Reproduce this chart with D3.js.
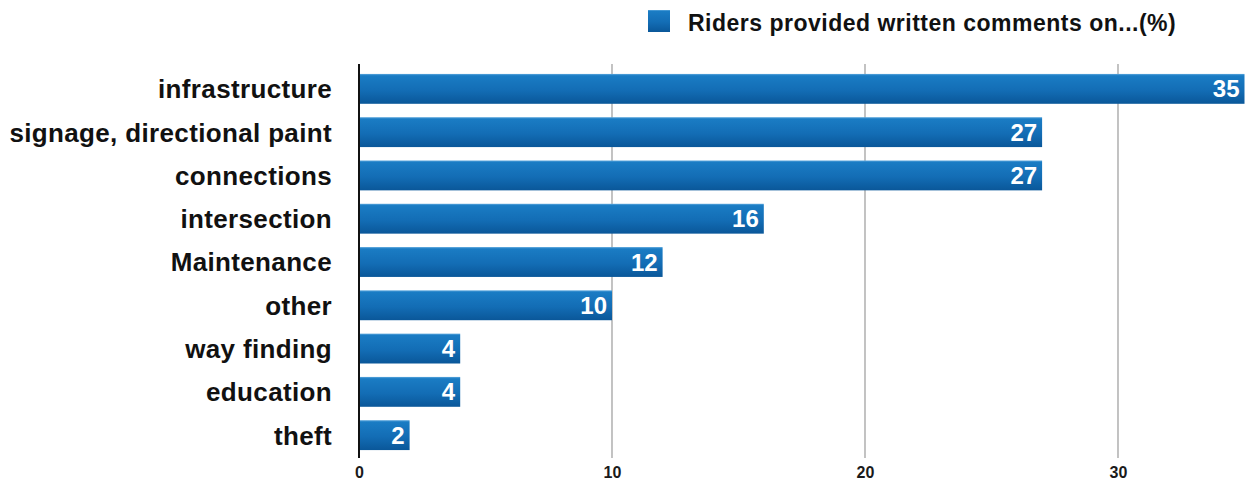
<!DOCTYPE html>
<html>
<head>
<meta charset="utf-8">
<script src="https://cdn.jsdelivr.net/npm/d3@7/dist/d3.min.js"></script>
<style>
  html, body { margin: 0; padding: 0; background: #fff; }
  svg { display: block; font-family: "Liberation Sans", Arial, Helvetica, sans-serif; }
</style>
</head>
<body>
<svg id="chart" width="1246" height="484"></svg>
<script>
// Categories and their shares (%) of riders' written comments
const categories = ["infrastructure", "signage, directional paint", "connections", "intersection",
                    "Maintenance", "other", "way finding", "education", "theft"];
const values = [35, 27, 27, 16, 12, 10, 4, 4, 2];
const tickValues = [0, 10, 20, 30];
const legendLabel = "Riders provided written comments on...(%)";

const svg = d3.select("#chart");

const x = d3.scaleLinear().domain([0, 35]).range([359, 1244.5]);
const y = d3.scaleBand().domain(categories).range([67, 457]).paddingInner(0.31).paddingOuter(0.16);

// Bar gradient: lighter blue on top, darker at the bottom
const defs = svg.append("defs");
const grad = defs.append("linearGradient").attr("id", "barGrad")
  .attr("x1", 0).attr("y1", 0).attr("x2", 0).attr("y2", 1);
grad.append("stop").attr("offset", "0%").attr("stop-color", "#5aa6dc");
grad.append("stop").attr("offset", "6%").attr("stop-color", "#1a7cc4");
grad.append("stop").attr("offset", "55%").attr("stop-color", "#136db5");
grad.append("stop").attr("offset", "100%").attr("stop-color", "#0a5799");

// Vertical gridlines
svg.append("g").selectAll("line")
  .data(tickValues.filter(d => d > 0))
  .join("line")
  .attr("x1", d => x(d)).attr("x2", d => x(d))
  .attr("y1", 64).attr("y2", 458)
  .attr("stroke", "#9a9a9a").attr("stroke-width", 1.2);

// Bottom axis labels
const axis = d3.axisBottom(x).tickValues(tickValues).tickSize(0).tickPadding(0);
const axisG = svg.append("g").attr("transform", "translate(0,467)").call(axis)
  .attr("font-size", 16).attr("font-family", null);
axisG.select(".domain").remove();
axisG.selectAll("text")
  .style("font-size", "16px").style("font-weight", "bold").style("fill", "#1a1a1a");

// Bars
svg.append("g").selectAll("rect")
  .data(values)
  .join("rect")
  .attr("x", x(0))
  .attr("y", (d, i) => y(categories[i]))
  .attr("width", d => x(d) - x(0))
  .attr("height", y.bandwidth())
  .attr("fill", "url(#barGrad)");

// Value labels inside bar ends
svg.append("g").selectAll("text")
  .data(values)
  .join("text")
  .attr("x", d => x(d) - 5)
  .attr("y", (d, i) => y(categories[i]) + y.bandwidth() / 2)
  .attr("dy", "0.36em")
  .attr("text-anchor", "end")
  .attr("font-size", 24).attr("font-weight", "bold").attr("fill", "#fff")
  .text(d => d);

// Left axis line
svg.append("line")
  .attr("x1", x(0)).attr("x2", x(0))
  .attr("y1", 64).attr("y2", 458)
  .attr("stroke", "#111").attr("stroke-width", 2);

// Category labels
svg.append("g").selectAll("text")
  .data(categories)
  .join("text")
  .attr("x", 332)
  .attr("y", d => y(d) + y.bandwidth() / 2)
  .attr("dy", "0.36em")
  .attr("text-anchor", "end")
  .attr("font-size", 26).attr("font-weight", "bold").attr("fill", "#111")
  .attr("letter-spacing", 0.35)
  .text(d => d);

// Legend
const legend = svg.append("g");
legend.append("rect")
  .attr("x", 648).attr("y", 10).attr("width", 22).attr("height", 22)
  .attr("fill", "url(#barGrad)");
legend.append("text")
  .attr("x", 688).attr("y", 31)
  .attr("font-size", 23).attr("font-weight", "bold").attr("fill", "#111")
  .attr("letter-spacing", 0.5)
  .text(legendLabel);
</script>
</body>
</html>
